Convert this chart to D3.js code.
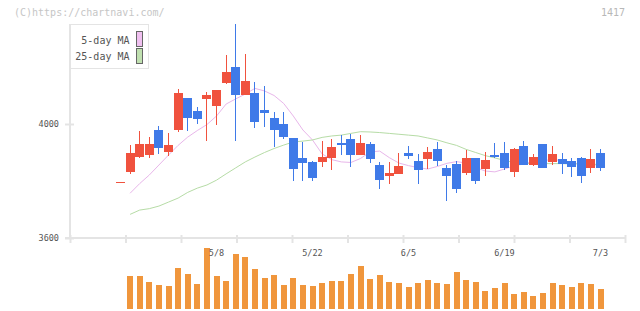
<!DOCTYPE html>
<html>
<head>
<meta charset="utf-8">
<script src="https://cdn.jsdelivr.net/npm/d3@7"></script>
<style>
body { margin: 0; background: #fff; }
svg { display: block; font-family: "DejaVu Sans Mono", monospace; }
</style>
</head>
<body>
<div id="chart"></div>
<script>
// daily prices
var dates = ["4/19","4/20","4/21","4/24","4/25","4/26","4/27","4/28","5/1","5/2",
	"5/8","5/9","5/10","5/11","5/12","5/15","5/16","5/17","5/18","5/19",
	"5/22","5/23","5/24","5/25","5/26","5/29","5/30","5/31","6/1","6/2",
	"6/5","6/6","6/7","6/8","6/9","6/12","6/13","6/14","6/15","6/16",
	"6/19","6/20","6/21","6/22","6/23","6/26","6/27","6/28","6/29","6/30","7/3"];
var open = [3795,3833,3885,3891,3979,3903,3980,4091,4046,4088,
	4064,4144,4200,4102,4109,4050,4021,4000,3951,3881,
	3867,3868,3882,3932,3947,3892,3930,3856,3819,3826,
	3899,3870,3877,3912,3846,3860,3829,3881,3842,3891,
	3898,3833,3923,3857,3930,3868,3877,3870,3881,3847,3898];
var high = [3795,3926,3976,3955,3993,3967,4123,4091,4060,4113,
	4119,4242,4351,4246,4147,4133,4042,4042,3951,3937,
	3870,3940,3947,3961,3966,3961,3937,3867,3867,3899,
	3923,3896,3919,3937,3856,3870,3909,3881,3902,3933,
	3937,3916,3940,3895,3930,3923,3898,3881,3884,3912,3912];
var low = [3795,3825,3882,3882,3895,3889,3973,3976,4001,3941,
	3996,4140,3941,4102,3987,3991,3920,3948,3801,3801,
	3801,3850,3840,3892,3850,3892,3864,3773,3790,3826,
	3878,3790,3842,3854,3731,3759,3822,3790,3819,3881,
	3839,3815,3857,3854,3847,3857,3826,3815,3794,3829,3836];
var close = [3795,3897,3930,3930,3917,3926,4109,4022,4019,4102,
	4119,4182,4102,4151,4008,4040,3980,3955,3842,3864,
	3812,3884,3919,3927,3892,3933,3878,3805,3828,3853,
	3889,3840,3902,3871,3818,3773,3881,3801,3874,3884,
	3846,3912,3857,3884,3847,3895,3861,3850,3819,3877,3847];
var volume = [0,330,330,270,240,230,410,350,250,610,
	330,280,550,520,400,310,340,240,310,240,
	230,260,280,280,350,430,300,340,270,260,
	220,260,290,260,250,370,290,270,180,210,
	260,150,170,130,160,260,240,220,260,250,200];
var ma5 = [null,3757,3791,3821,3856,3891,3925,3954,3977,3998,
	4028,4070,4088,4105,4125,4116,4100,4072,4028,3979,
	3944,3895,3875,3867,3865,3879,3902,3905,3882,3863,
	3854,3847,3842,3851,3862,3868,3863,3847,3835,3832,
	3842,3853,3860,3870,3870,3877,3870,3867,3856,3860,3853];
var ma25 = [null,3683,3698,3703,3712,3726,3740,3760,3775,3786,
	3803,3825,3846,3867,3884,3900,3914,3926,3937,3940,
	3944,3953,3958,3961,3967,3973,3972,3970,3967,3964,
	3961,3958,3951,3944,3934,3925,3911,3900,3889,3881,
	3872,3865,3862,3861,3861,3861,3861,3860,3860,3859,3858];

var dateLabels = ["5/8", "5/22", "6/5", "6/19", "7/3"];
var priceTicks = [3600, 4000];
var maNames = ["5-day MA", "25-day MA"];
var code = "1417";

var width = 640,
	height = 311,
	plot = {left: 70, right: 625, top: 24, bottom: 238},
	volBase = 309,
	upColor = "#f0523e",
	downColor = "#3f7ae8",
	volColor = "#f0963c",
	maColors = ["#e8b6ea", "#b6dca6"],
	axisColor = "#e4e4e4";

var data = dates.map(function(d, i) {
	return {date: d, o: open[i], h: high[i], l: low[i], c: close[i], v: volume[i]};
});

var xScale = d3.scalePoint().domain(dates).range([120.5, 600.5]),
	yScale = d3.scaleLinear().domain([3600, 4000]).range([plot.bottom, 124]),
	vScale = d3.scaleLinear().domain([0, 700]).range([volBase, volBase - 70]),
	frameScale = d3.scaleLinear().domain([0, 10]).range([plot.left, plot.right]);

var svg = d3.select("#chart").append("svg")
	.attr("width", width)
	.attr("height", height);

// header texts
svg.append("text")
	.attr("x", 14)
	.attr("y", 16)
	.attr("fill", "#c6c6c6")
	.style("font-size", "10px")
	.text("(C)https://chartnavi.com/");

svg.append("text")
	.attr("x", plot.right)
	.attr("y", 16)
	.attr("text-anchor", "end")
	.attr("fill", "#b8b8b8")
	.style("font-size", "10px")
	.text(code);

// frame
svg.append("line")
	.attr("x1", plot.left).attr("x2", plot.left)
	.attr("y1", plot.top).attr("y2", plot.bottom + 1)
	.attr("stroke", axisColor).attr("stroke-width", 2);

svg.append("line")
	.attr("x1", plot.left - 5).attr("x2", plot.right + 1)
	.attr("y1", plot.bottom).attr("y2", plot.bottom)
	.attr("stroke", axisColor).attr("stroke-width", 2);

var xAxis = svg.append("g")
	.attr("transform", "translate(0," + plot.bottom + ")")
	.call(d3.axisBottom(frameScale).ticks(10).tickSize(5).tickFormat(""));
xAxis.select(".domain").remove();
xAxis.selectAll(".tick line")
	.attr("y1", -3)
	.attr("stroke", axisColor)
	.attr("stroke-width", 2);

var yAxis = svg.append("g")
	.attr("transform", "translate(" + plot.left + ",0)")
	.call(d3.axisLeft(yScale).tickValues(priceTicks).tickFormat(d3.format("d")).tickSize(5).tickPadding(6));
yAxis.select(".domain").remove();
yAxis.selectAll(".tick line")
	.attr("x1", 4)
	.attr("stroke", axisColor)
	.attr("stroke-width", 2);
yAxis.selectAll(".tick text")
	.attr("fill", "#555")
	.style("font-family", "DejaVu Sans Mono, monospace")
	.style("font-size", "8.5px");

// volume
svg.append("g").selectAll("rect")
	.data(data)
	.enter().append("rect")
	.attr("x", function(d) { return Math.round(xScale(d.date) - 3); })
	.attr("y", function(d) { return vScale(d.v); })
	.attr("width", 6)
	.attr("height", function(d) { return volBase - vScale(d.v); })
	.attr("fill", volColor);

// date labels
svg.append("g").selectAll("text")
	.data(dateLabels)
	.enter().append("text")
	.attr("x", function(d) { return xScale(d); })
	.attr("y", 255.5)
	.attr("text-anchor", "middle")
	.attr("fill", "#555")
	.style("font-size", "8.5px")
	.text(function(d) { return d; });

// moving averages, behind the candles
[ma5, ma25].forEach(function(series, k) {
	var line = d3.line()
		.defined(function(d) { return d != null; })
		.x(function(d, i) { return xScale(dates[i]); })
		.y(function(d) { return yScale(d); });
	svg.append("path")
		.datum(series)
		.attr("d", line)
		.attr("fill", "none")
		.attr("stroke", maColors[k])
		.attr("stroke-width", 1);
});

// candles
var candle = svg.append("g").selectAll("g")
	.data(data)
	.enter().append("g")
	.attr("fill", function(d) { return d.c >= d.o ? upColor : downColor; })
	.attr("stroke", function(d) { return d.c >= d.o ? upColor : downColor; });

candle.append("line")
	.attr("x1", function(d) { return Math.round(xScale(d.date) - 4.5) + 4.5; })
	.attr("x2", function(d) { return Math.round(xScale(d.date) - 4.5) + 4.5; })
	.attr("y1", function(d) { return Math.round(yScale(d.h)); })
	.attr("y2", function(d) { return Math.round(yScale(d.l)); })
	.attr("stroke-width", 1);

candle.append("rect")
	.attr("stroke", "none")
	.attr("x", function(d) { return Math.round(xScale(d.date) - 4.5); })
	.attr("y", function(d) { return Math.round(yScale(Math.max(d.o, d.c))); })
	.attr("width", 9)
	.attr("height", function(d) {
		return Math.max(1, Math.round(yScale(Math.min(d.o, d.c))) - Math.round(yScale(Math.max(d.o, d.c))));
	});

// legend
var legend = svg.append("g");
legend.append("rect")
	.attr("x", plot.left + 0.5).attr("y", plot.top + 0.5)
	.attr("width", 78).attr("height", 44)
	.attr("fill", "#fff")
	.attr("stroke", axisColor);

maNames.forEach(function(name, k) {
	legend.append("text")
		.attr("x", 129.5)
		.attr("y", 43.5 + k * 16)
		.attr("text-anchor", "end")
		.attr("fill", "#555")
		.style("font-size", "10px")
		.text(name);
	legend.append("rect")
		.attr("x", 136.5)
		.attr("y", 31.5 + k * 17)
		.attr("width", 6)
		.attr("height", 15)
		.attr("fill", k ? "#c0e0b0" : "#f0c0f0")
		.attr("stroke", "#666");
});
</script>
</body>
</html>
